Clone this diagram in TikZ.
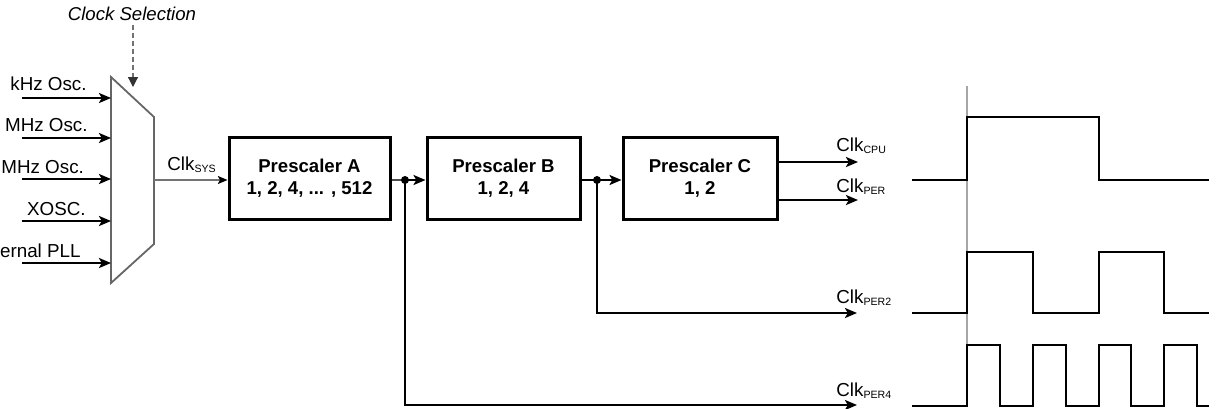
\documentclass[tikz,border=0pt]{standalone}
\usepackage{fontspec}
\setmainfont{Liberation Sans}
\usetikzlibrary{arrows.meta,calc}
\newcommand{\sbs}[1]{\raisebox{-0.3ex}{\fontsize{5.3}{6}\selectfont #1}}
\begin{document}
\begin{tikzpicture}[x=0.5pt,y=-0.5pt,
  lbl/.style={inner sep=0pt, font=\fontsize{9.4}{11}\selectfont},
  psbox/.style={draw, line width=1.5pt, minimum width=80.5pt, minimum height=41pt,
    inner sep=0pt, align=center, font=\fontsize{9.3}{11}\selectfont\bfseries},
  tip/.style={-{Stealth[length=6pt,width=5pt,inset=1.4pt]}},
  sig/.style={line width=1.2pt, tip},
  thin sig/.style={line width=0.6pt, black!55, -{Stealth[length=4.8pt,width=4pt,inset=1pt,black]}},
  muxline/.style={line width=0.9pt, black!60},
  wave/.style={line width=1.2pt, line join=miter},
  dot/.style={fill=black}
]
\useasboundingbox (0,0) rectangle (1217,408);
\clip (0,0) rectangle (1217,408);

% clock selection
\node[lbl, font=\fontsize{9.3}{11}\selectfont\itshape] (cs) at (132,14) {Clock Selection};
\coordinate (csend) at (133,87);
\draw[line width=0.6pt, black!55, dash pattern=on 2.5pt off 1.5pt,
  -{Triangle[length=5pt,width=5pt,black!80]}] ([yshift=-2pt]cs.south -| csend) -- (csend);

% multiplexer
\draw[muxline] (111,77) -- (154,117) -- (154,244) -- (111,283) -- cycle;
\coordinate (muxout) at (154,180);

% inputs
\foreach \i/\y in {1/98,2/138,3/179,4/221,5/263}{
  \coordinate (s\i) at (22,\y);
  \coordinate (m\i) at (111,\y);
  \draw[sig] (s\i) -- (m\i);
}
\node[lbl, anchor=base east] (l1) at (87,90) {kHz Osc.};
\node[lbl, anchor=base east] (l2) at (88,131) {MHz Osc.};
\node[lbl, anchor=base west] (l3) at (1,173) {MHz Osc.};
\node[lbl, anchor=base east] (l4) at (86,215) {XOSC.};
\node[lbl, anchor=base east] (l5) at (81,257) {ernal PLL};

% prescalers
\node[psbox] (A) at (309.5,178) {Prescaler A\\1, 2, 4, ... , 512};
\node[psbox, minimum width=76.5pt] (B) at (503.5,178.5) {Prescaler B\\1, 2, 4};
\node[psbox, minimum width=77pt] (C) at (700,178.5) {Prescaler C\\1, 2};

\draw[thin sig] (muxout) -- (muxout -| A.west);
\node[lbl, anchor=base west] (lsys) at (167,170) {Clk\sbs{SYS}};

\coordinate (dA) at (405,180);
\coordinate (dB) at (597,180);
\draw[line width=0.9pt, black!70] (A.east |- dA) -- (dA);
\draw[sig] (dA) -- (dA -| B.west);
\draw[line width=1.2pt] (B.east |- dB) -- (dB);
\draw[sig] (dB) -- (dB -| C.west);
\fill[dot] (dA) circle (2pt);
\fill[dot] (dB) circle (2pt);

% outputs
\coordinate (cpu) at (858,162);
\coordinate (per) at (858,200);
\coordinate (per2) at (857,313);
\coordinate (per4) at (857,405);
\draw[sig] (C.east |- cpu) -- (cpu);
\draw[sig] (C.east |- per) -- (per);
\draw[sig, line join=miter] (dB) |- (per2);
\draw[sig, line join=miter] (dA) |- (per4);

\node[lbl, anchor=base west] (lcpu) at (836,151) {Clk\sbs{CPU}};
\node[lbl, anchor=base west] (lper) at (836,192) {Clk\sbs{PER}};
\node[lbl, anchor=base west] (lper2) at (836,303) {Clk\sbs{PER2}};
\node[lbl, anchor=base west] (lper4) at (836,396) {Clk\sbs{PER4}};

% timing
\draw[line width=1pt, black!35] (967,86) -- (967,345);
\draw[wave] (912,180) -- (967,180) -- (967,117) -- (1099,117) -- (1099,180) -- (1209,180);
\draw[wave] (912,313) -- (967,313) -- (967,252) -- (1033,252) -- (1033,313) -- (1099,313)
  -- (1099,252) -- (1164,252) -- (1164,313) -- (1209,313);
\draw[wave] (912,406) -- (967,406) -- (967,345) -- (1000,345) -- (1000,406) -- (1033,406)
  -- (1033,345) -- (1066,345) -- (1066,406) -- (1099,406) -- (1099,345) -- (1131,345)
  -- (1131,406) -- (1164,406) -- (1164,345) -- (1197,345) -- (1197,406) -- (1209,406);
\end{tikzpicture}
\end{document}
